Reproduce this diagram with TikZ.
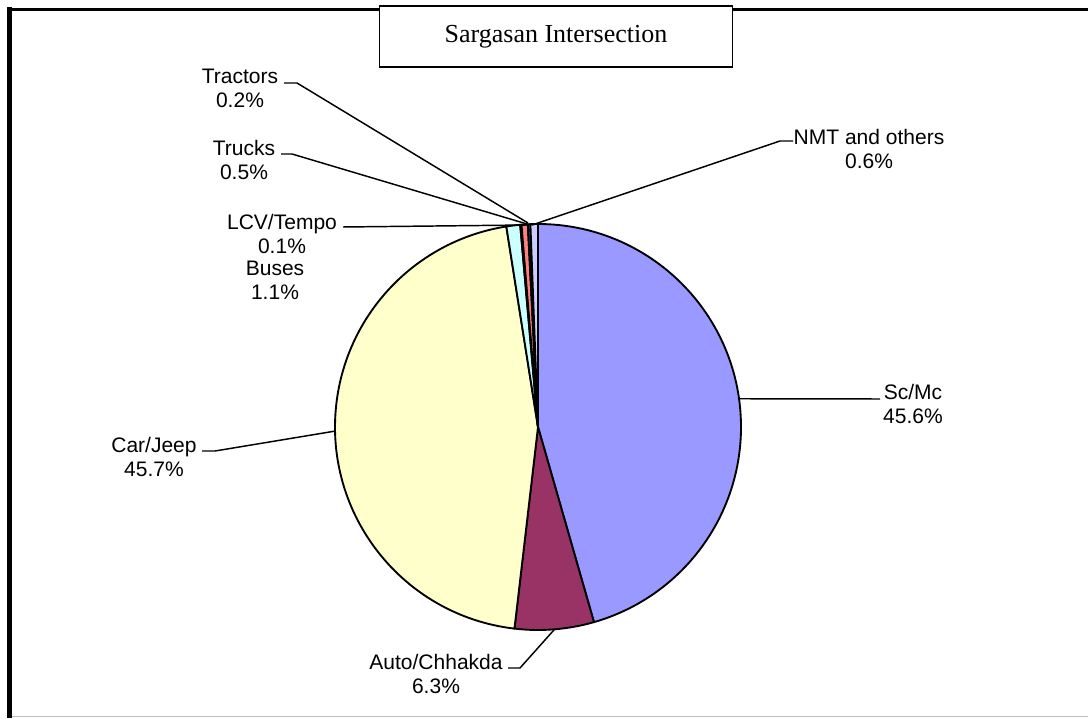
\documentclass[tikz,border=0pt]{standalone}
\usepackage{fontspec}
\usetikzlibrary{calc}
\newfontfamily\labfont{Liberation Sans}
\newfontfamily\ttlfont{Liberation Serif}
\definecolor{cscmc}{HTML}{9999FF}
\definecolor{cauto}{HTML}{993366}
\definecolor{ccar}{HTML}{FFFFCC}
\definecolor{cbus}{HTML}{CCFFFF}
\definecolor{clcv}{HTML}{660066}
\definecolor{ctruck}{HTML}{FF8080}
\definecolor{ctract}{HTML}{0066CC}
\definecolor{cnmt}{HTML}{CCCCFF}
\definecolor{cbottom}{HTML}{C0C0C0}
\begin{document}
\begin{tikzpicture}[x=0.75pt,y=0.75pt,
  slice/.style={draw=black,line width=1.4pt,line join=round},
  leader/.style={draw=black,line width=1.1pt},
  lab/.style={font=\labfont\fontsize{15.75}{18}\selectfont,align=center,inner sep=0pt},
]
\useasboundingbox (0,0) rectangle (1088,718);
% outer frame
\coordinate (fl1) at (9.5,711);
\coordinate (fl2) at (9.5,0);
\coordinate (ft1) at (7,708.5);
\coordinate (ft2) at (1088,708.5);
\coordinate (fb1) at (12,1.5);
\coordinate (fb2) at (1088,1.5);
\draw[line width=3.75pt] (fl1) -- (fl2);
\draw[line width=2.6pt] (ft1) -- (ft2);
\draw[cbottom,line width=1.2pt] (fb1) -- (fb2);
% title box
\node[draw=black,fill=white,line width=1.1pt,minimum width=353*0.75pt,minimum height=61*0.75pt,inner sep=0pt] (titlebox) at (556,681.5) {};
\node[font=\ttlfont\fontsize{19.5}{22}\selectfont,anchor=base,inner sep=0pt] (title) at (556,675.5) {Sargasan Intersection};
% pie
\coordinate (C) at (538,291);
\def\R{203}
\filldraw[slice,fill=cscmc] (C) -- ++(90:\R) arc[start angle=90,end angle=-74.0,radius=\R] -- cycle;
\filldraw[slice,fill=cauto] (C) -- ++(-74.0:\R) arc[start angle=-74.0,end angle=-96.66,radius=\R] -- cycle;
\filldraw[slice,fill=ccar] (C) -- ++(-96.66:\R) arc[start angle=-96.66,end angle=-261.02,radius=\R] -- cycle;
\filldraw[slice,fill=cbus] (C) -- ++(-261.02:\R) arc[start angle=-261.02,end angle=-264.97,radius=\R] -- cycle;
\filldraw[slice,fill=clcv] (C) -- ++(-264.97:\R) arc[start angle=-264.97,end angle=-265.33,radius=\R] -- cycle;
\filldraw[slice,fill=ctruck] (C) -- ++(-265.33:\R) arc[start angle=-265.33,end angle=-267.13,radius=\R] -- cycle;
\filldraw[slice,fill=ctract] (C) -- ++(-267.13:\R) arc[start angle=-267.13,end angle=-267.85,radius=\R] -- cycle;
\filldraw[slice,fill=cnmt] (C) -- ++(-267.85:\R) arc[start angle=-267.85,end angle=-270,radius=\R] -- cycle;
% labels
\node[lab] (lscmc) at (913,314) {Sc/Mc\\45.6\%};
\node[lab] (lauto) at (436,44) {Auto/Chhakda\\6.3\%};
\node[lab] (lcar) at (154,261.5) {Car/Jeep\\45.7\%};
\node[lab] (lbus) at (275,437.5) {Buses\\1.1\%};
\node[lab] (llcv) at (282,484.5) {LCV/Tempo\\0.1\%};
\node[lab] (ltruck) at (244,558.5) {Trucks\\0.5\%};
\node[lab] (ltract) at (240,629.5) {Tractors\\0.2\%};
\node[lab] (lnmt) at (869,569.5) {NMT and others\\0.6\%};
% leader points
\coordinate (pscmc) at ($(C)+(8.0:\R)$);
\coordinate (escmc) at (880,319);
\coordinate (pauto) at ($(C)+(-85.33:\R)$);
\coordinate (kauto) at (520,50);
\coordinate (eauto) at (508,50);
\coordinate (pcar) at ($(C)+(-178.84:\R)$);
\coordinate (kcar) at (215,267);
\coordinate (ecar) at (202,267);
\coordinate (plcv) at (527,493);
\coordinate (elcv) at (343,491);
\coordinate (ptruck) at (527,494);
\coordinate (ktruck) at (292,564);
\coordinate (etruck) at (281,564);
\coordinate (ptract) at (528,495);
\coordinate (ktract) at (297,635);
\coordinate (etract) at (284,635);
\coordinate (pnmt) at (532,493);
\coordinate (knmt) at (780,577);
\coordinate (enmt) at (793,577);
\draw[leader] (pscmc) -- (escmc);
\draw[leader] (pauto) -- (kauto) -- (eauto);
\draw[leader] (pcar) -- (kcar) -- (ecar);
\draw[leader] (plcv) -- (elcv);
\draw[leader] (ptruck) -- (ktruck) -- (etruck);
\draw[leader] (ptract) -- (ktract) -- (etract);
\draw[leader] (pnmt) -- (knmt) -- (enmt);
\end{tikzpicture}
\end{document}
